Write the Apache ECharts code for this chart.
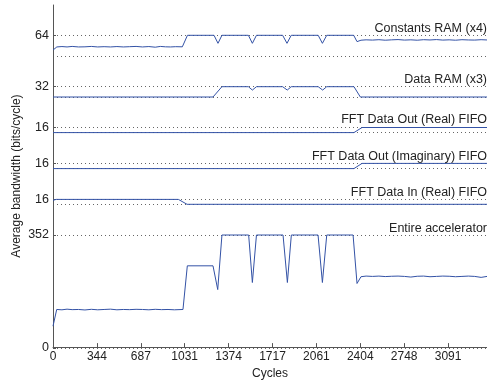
<!DOCTYPE html>
<html><head><meta charset="utf-8">
<script src="https://cdn.jsdelivr.net/npm/echarts@6/dist/echarts.min.js"></script>
<style>html,body{margin:0;padding:0;background:#fff}#c{width:487px;height:385px}</style>
</head><body><div id="c"></div>
<script>
// ---- tick labels / axis values ----
const xTickLabels = ['0', '344', '687', '1031', '1374', '1717', '2061', '2404', '2748', '3091'];
const xTickStep = 343.5;
const xMax = 3396;

const panelTitles = ['Constants RAM (x4)', 'Data RAM (x3)', 'FFT Data Out (Real) FIFO',
  'FFT Data Out (Imaginary) FIFO', 'FFT Data In (Real) FIFO', 'Entire accelerator'];
const panelLow = [48, 24, 0, 0, 0, 0];
const panelHigh = [64, 32, 16, 16, 16, 352];

// ---- series data (cycles, bits/cycle) ----
const constCycles = [0, 30, 70, 110, 150, 200, 250, 300, 350, 400, 450, 500, 550, 600, 650, 700, 750, 800, 840, 880, 920, 960, 1012,
  1052, 1260, 1291, 1322, 1529, 1560, 1592, 1797, 1831, 1864, 2075, 2108, 2142, 2353, 2379, 2410,
  2450, 2500, 2550, 2600, 2650, 2700, 2750, 2800, 2850, 2900, 2950, 3000, 3050, 3100, 3150, 3200, 3250, 3300, 3350, 3396];
const constValues = [52.6, 55.0, 55.3, 55.0, 55.4, 55.0, 55.1, 55.4, 55.0, 55.2, 55.0, 55.3, 55.0, 55.2, 55.4, 55.0, 55.3, 54.8, 55.4, 55.1, 55.0, 55.2, 55.1,
  64, 64, 57.8, 64, 64, 57.8, 64, 64, 57.8, 64, 64, 57.8, 64, 64, 59.1, 60.2,
  60.5, 60.3, 60.6, 60.2, 60.5, 60.7, 60.3, 60.5, 60.2, 60.6, 60.4, 60.7, 60.3, 60.5, 60.2, 60.6, 60.4, 60.3, 60.6, 60.4];

const dataRamCycles = [0, 1252, 1322, 1529, 1560, 1592, 1797, 1833, 1864, 2075, 2110, 2142, 2355, 2405, 3396];
const dataRamValues = [24, 24, 32, 32, 29.4, 32, 32, 29.4, 32, 32, 29.4, 32, 32, 24, 24];

const outRealCycles = [0, 2355, 2418, 3396];
const outRealValues = [0, 0, 16, 16];

const outImagCycles = [0, 2355, 2418, 3396];
const outImagValues = [0, 0, 16, 16];

const inRealCycles = [0, 25, 981, 1049, 3396];
const inRealValues = [13, 16, 16, 0, 0];

const totalCycles = [0, 29, 70, 110, 150, 200, 250, 300, 350, 400, 450, 500, 550, 600, 650, 700, 750, 800, 850, 900, 950, 1017,
  1051, 1252, 1289, 1322, 1531, 1560, 1592, 1800, 1834, 1865, 2074, 2108, 2142, 2348, 2379, 2410,
  2450, 2500, 2550, 2600, 2650, 2700, 2750, 2800, 2850, 2900, 2950, 3000, 3050, 3100, 3150, 3200, 3250, 3300, 3350, 3396];
const totalValues = [68, 120, 119, 121, 119.5, 120, 118.5, 120.5, 119, 120, 121, 119, 120, 119.5, 120.5, 120, 119, 120.5, 119.5, 120, 119, 120,
  256, 256, 182, 352, 352, 204, 352, 352, 204, 352, 352, 204, 352, 352, 201, 222,
  224, 223, 224, 222.5, 223.5, 224, 223, 221, 223.5, 224, 222, 223, 224, 223.5, 222, 223, 224, 223, 220, 223];

const seriesCycles = [constCycles, dataRamCycles, outRealCycles, outImagCycles, inRealCycles, totalCycles];
const seriesValues = [constValues, dataRamValues, outRealValues, outImagValues, inRealValues, totalValues];

// ---- layout (pixels) ----
const panelTopPx = [35.3, 86.7, 127.5, 163.4, 199.4, 235];
const panelBottomPx = [56, 97, 132.6, 168.6, 204.3, 348];
const titleYPx = [28.5, 80, 120, 156.5, 193, 229];

const FONT = '"Liberation Sans", Arial, Helvetica, sans-serif';
const LINE = '#3352a6';
const AXIS = '#555';
const TEXT = '#222';

const grids = [{ left: 53, right: 0, top: 5, bottom: 37 }];
const xAxes = [{
  gridIndex: 0, type: 'value', min: 0, max: xMax, interval: xTickStep,
  axisLine: { lineStyle: { color: AXIS, width: 1 } },
  axisTick: { inside: true, length: 4, lineStyle: { color: AXIS } },
  axisLabel: { margin: 4, fontSize: 12, color: TEXT, fontFamily: FONT, showMaxLabel: false,
    formatter: v => { const s = xTickLabels[Math.round(v / xTickStep)]; return s === undefined ? '' : s; } },
  splitLine: { show: false },
  name: 'Cycles', nameLocation: 'middle', nameGap: 19,
  nameTextStyle: { fontSize: 12, color: TEXT, fontFamily: FONT }
}];
const yAxes = [{
  gridIndex: 0, type: 'value', min: 0, max: 1,
  axisLine: { show: true, lineStyle: { color: AXIS, width: 1 } },
  axisTick: { show: false }, axisLabel: { show: false }, splitLine: { show: false },
  name: 'Average bandwidth (bits/cycle)', nameLocation: 'middle', nameGap: 30,
  nameTextStyle: { fontSize: 12, color: TEXT, fontFamily: FONT }
}];
const series = [];
const graphics = [];

for (let i = 0; i < 6; i++) {
  grids.push({ left: 53, right: 0, top: panelTopPx[i], height: panelBottomPx[i] - panelTopPx[i] });
  xAxes.push({ gridIndex: i + 1, type: 'value', min: 0, max: xMax, show: false });
  yAxes.push({
    gridIndex: i + 1, type: 'value', min: panelLow[i], max: panelHigh[i], interval: panelHigh[i] - panelLow[i],
    axisLine: { show: false },
    axisTick: { show: true, inside: true, length: 3, lineStyle: { color: AXIS } },
    axisLabel: { margin: 4, fontSize: 12.5, color: TEXT, fontFamily: FONT, showMinLabel: i === 5 },
    splitLine: { show: true, lineStyle: { type: [1, 3], color: '#666', width: 1 } }
  });
  series.push({
    type: 'line', xAxisIndex: i + 1, yAxisIndex: i + 1, showSymbol: false, symbol: 'none',
    clip: false, animation: false,
    lineStyle: { color: LINE, width: 1 },
    data: seriesCycles[i].map((c, k) => [c, seriesValues[i][k]])
  });
  graphics.push({
    type: 'text', x: 487, y: titleYPx[i], z: 10,
    style: { text: panelTitles[i], align: 'right', verticalAlign: 'middle',
      fontSize: 12.5, fontFamily: FONT, fill: TEXT }
  });
}

const chart = echarts.init(document.getElementById('c'), null, { renderer: 'canvas' });
chart.setOption({
  animation: false,
  backgroundColor: '#fff',
  grid: grids, xAxis: xAxes, yAxis: yAxes, series: series, graphic: graphics
});
</script></body></html>
